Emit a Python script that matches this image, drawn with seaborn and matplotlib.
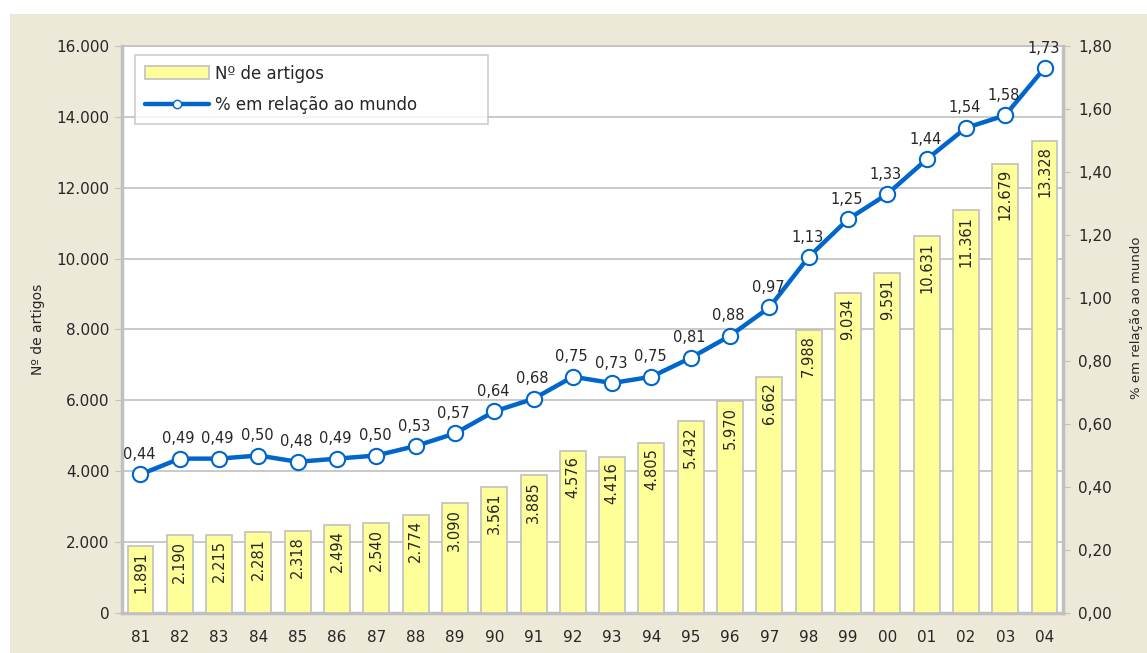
import matplotlib
matplotlib.use("Agg")
from matplotlib import pyplot as plt
from matplotlib.patches import Rectangle
from matplotlib.lines import Line2D
import matplotlib.ticker as mticker
import seaborn as sns
import pandas as pd
import numpy as np

anos = ["81", "82", "83", "84", "85", "86", "87", "88", "89", "90", "91", "92",
        "93", "94", "95", "96", "97", "98", "99", "00", "01", "02", "03", "04"]
artigos = [1891, 2190, 2215, 2281, 2318, 2494, 2540, 2774, 3090, 3561, 3885, 4576,
           4416, 4805, 5432, 5970, 6662, 7988, 9034, 9591, 10631, 11361, 12679, 13328]
pct_mundo = [0.44, 0.49, 0.49, 0.50, 0.48, 0.49, 0.50, 0.53, 0.57, 0.64, 0.68, 0.75,
             0.73, 0.75, 0.81, 0.88, 0.97, 1.13, 1.25, 1.33, 1.44, 1.54, 1.58, 1.73]

df = pd.DataFrame({"ano": anos, "artigos": artigos, "pct": pct_mundo,
                   "pos": np.arange(len(anos))})

bg = "#ECE9D8"
grid = "#C0C0C0"
amarelo = "#FFFF99"
azul = "#0066CC"

sns.set_style("white")
plt.rcParams["font.family"] = ["DejaVu Sans"]

fig = plt.figure(figsize=(11.47, 6.53), dpi=100)
fig.patch.set_facecolor("white")
# fundo bege (janela do grafico)
fig.patches.append(Rectangle((10 / 1147, 0), 1 - 10 / 1147, 1 - 14 / 653,
                             transform=fig.transFigure, facecolor=bg,
                             edgecolor="none", zorder=-10))

ax = fig.add_axes([122 / 1147, 1 - 613 / 653, (1063 - 122) / 1147, (613 - 46) / 653])
ax.set_facecolor("white")

sns.barplot(data=df, x="ano", y="artigos", ax=ax, color=amarelo, width=0.66,
            edgecolor=grid, linewidth=1.2, saturation=1, zorder=3)
ax.set_ylim(0, 16000)
ax.set_xlim(-0.47, len(anos) - 0.53)
ax.set_yticks(np.arange(0, 16001, 2000))
ax.yaxis.set_major_formatter(mticker.FuncFormatter(lambda v, p: f"{int(v):,}".replace(",", ".")))
ax.grid(axis="y", color=grid, linewidth=1.2, zorder=0)
ax.set_axisbelow(True)
ax.set_xlabel("")
ax.set_ylabel("Nº de artigos", fontsize=10, labelpad=8)
ax.tick_params(axis="y", length=5, color=grid, labelsize=11, pad=4)
ax.tick_params(axis="x", length=0, labelsize=11, pad=12)
for s in ["left", "bottom", "right", "top"]:
    ax.spines[s].set_color(grid)
    ax.spines[s].set_linewidth(1.2)
ax.spines["left"].set_linewidth(2.5)
ax.spines["bottom"].set_linewidth(2.5)

for i, v in enumerate(artigos):
    ax.annotate(f"{v:,}".replace(",", "."), (i, v), xytext=(0, -4),
                textcoords="offset points", rotation=90, ha="center", va="top",
                fontsize=10.5, zorder=5)

ax2 = ax.twinx()
sns.lineplot(data=df, x="pos", y="pct", ax=ax2, color=azul, linewidth=3.2,
             marker="o", markersize=11, markerfacecolor="white",
             markeredgecolor=azul, markeredgewidth=1.5, zorder=6)
ax2.set_ylim(0, 1.8)
ax2.set_yticks(np.arange(0, 1.81, 0.2))
ax2.yaxis.set_major_formatter(mticker.FuncFormatter(lambda v, p: f"{v:.2f}".replace(".", ",")))
ax2.set_ylabel("% em relação ao mundo", fontsize=9.5, rotation=90, labelpad=6)
ax2.yaxis.set_label_coords(1.071, 0.52)
ax2.tick_params(axis="y", length=5, color=grid, labelsize=11, pad=6)
for s in ["left", "bottom", "right", "top"]:
    ax2.spines[s].set_visible(False)
ax2.spines["right"].set_visible(True)
ax2.spines["right"].set_color(grid)
ax2.spines["right"].set_linewidth(2.5)
ax2.set_xlabel("")

for i, v in enumerate(pct_mundo):
    ax2.annotate(f"{v:.2f}".replace(".", ","), (i, v), xytext=(-1, 9),
                 textcoords="offset points", ha="center", va="bottom",
                 fontsize=10.5, zorder=7)

ax.set_xticks(np.arange(len(anos)))
ax.set_xticklabels(anos)

handles = [Rectangle((0, 0), 1, 1, facecolor=amarelo, edgecolor=grid, linewidth=1.2),
           Line2D([], [], color=azul, linewidth=3.2, marker="o", markersize=6,
                  markerfacecolor="white", markeredgecolor=azul)]
leg_w = (488 - 135) / 941
leg_h = (130 - 54) / 567
leg = ax2.legend(handles, ["Nº de artigos", "% em relação ao mundo"],
                 loc="upper left", bbox_to_anchor=(0.014, 0.985 - leg_h, leg_w, leg_h),
                 mode="expand", borderaxespad=0,
                 fontsize=12, frameon=True, fancybox=False, handlelength=3.8,
                 handleheight=0.8, handletextpad=0.4, borderpad=0.6, labelspacing=0.8)
leg.get_frame().set_edgecolor(grid)
leg.get_frame().set_linewidth(1.2)
leg.set_zorder(10)

fig.savefig("out.png", dpi=100, facecolor=fig.get_facecolor())
